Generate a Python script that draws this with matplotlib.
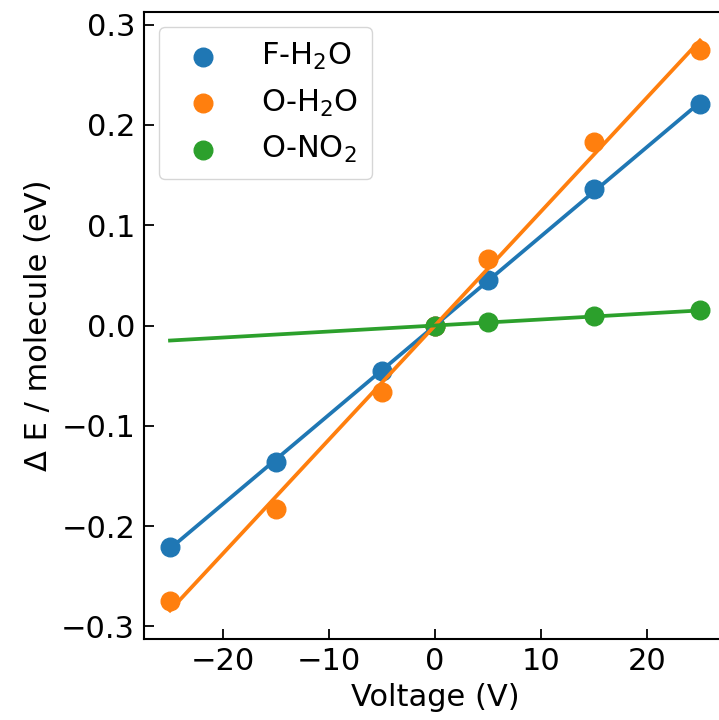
import numpy as np
import matplotlib
matplotlib.use("Agg")
import matplotlib.pyplot as plt

# Energy change per molecule vs applied voltage
voltage_fh2o = [-25, -15, -5, 0, 5, 15, 25]
de_fh2o = [-0.221, -0.136, -0.045, 0.0, 0.045, 0.136, 0.221]

voltage_oh2o = [-25, -15, -5, 0, 5, 15, 25]
de_oh2o = [-0.275, -0.183, -0.066, 0.0, 0.066, 0.183, 0.275]

voltage_ono2 = [0, 5, 15, 25]
de_ono2 = [0.0, 0.003, 0.009, 0.015]

labels = ["F-H$_2$O", "O-H$_2$O", "O-NO$_2$"]
colors = ["#1f77b4", "#ff7f0e", "#2ca02c"]

plt.rcParams["font.size"] = 22

fig = plt.figure(figsize=(7.19, 7.2), dpi=100)
ax = fig.add_axes([143.5 / 719, 81 / 720, 583 / 719, 627 / 720])

series = [(voltage_fh2o, de_fh2o), (voltage_oh2o, de_oh2o), (voltage_ono2, de_ono2)]
xfit = np.array([-25, 25])
for (x, y), lab, c in zip(series, labels, colors):
    ax.scatter(x, y, s=180, color=c, label=lab)
    slope, intercept = np.polyfit(x, y, 1)
    ax.plot(xfit, slope * xfit + intercept, color=c, lw=2.7)

ax.set_xlabel("Voltage (V)", labelpad=5)
ax.set_ylabel("Δ E / molecule (eV)", labelpad=6)
ax.set_yticks([-0.3, -0.2, -0.1, 0.0, 0.1, 0.2, 0.3])
ax.set_xticks([-20, -10, 0, 10, 20])
ax.tick_params(direction="in", length=7, width=1.3, pad=6)
for sp in ax.spines.values():
    sp.set_linewidth(1.5)

ax.legend(loc="upper left", handletextpad=0.9, borderpad=0.45)

fig.savefig("out.png", dpi=100)
